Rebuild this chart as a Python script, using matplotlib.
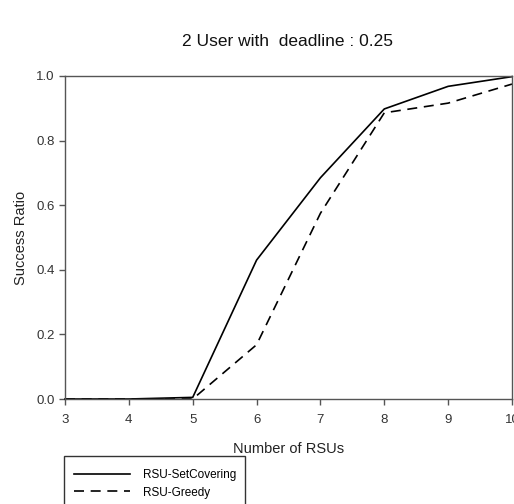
import matplotlib
matplotlib.use("Agg")
import matplotlib.pyplot as plt
from matplotlib.patches import Rectangle
from matplotlib.lines import Line2D

plt.rcParams['font.family'] = ['Liberation Sans', 'DejaVu Sans']

rsus = [3, 4, 5, 6, 7, 8, 9, 10]
set_covering = [0.0, 0.0, 0.005, 0.43, 0.685, 0.898, 0.968, 0.998]
greedy = [0.0, 0.0, 0.0, 0.168, 0.575, 0.886, 0.916, 0.975]
xticks = [3, 4, 5, 6, 7, 8, 9, 10]
yticks = [0.0, 0.2, 0.4, 0.6, 0.8, 1.0]
labels = ["RSU-SetCovering", "RSU-Greedy"]

W, H = 514, 504
fig = plt.figure(figsize=(W / 100, H / 100), dpi=100)
ax = fig.add_axes([65 / W, 1 - 399 / H, (512 - 65) / W, (399 - 76) / H])

ax.plot(rsus, set_covering, color='black', lw=1.2, clip_on=False)
ax.plot(rsus, greedy, color='black', lw=1.2, ls=(0, (6, 4)), clip_on=False)

ax.set_xlim(3, 10)
ax.set_ylim(0, 1.0)
ax.set_xticks(xticks)
ax.set_yticks(yticks)
ax.set_xticklabels([str(v) for v in xticks])
ax.set_yticklabels([f"{v:.1f}" for v in yticks])
for s in ax.spines.values():
    s.set_color('#555555')
    s.set_linewidth(1.0)
ax.tick_params(direction='out', length=4.5, width=1.0, color='#555555',
               labelsize=9.5, labelcolor='#333333', pad=3)
ax.tick_params(axis='x', pad=6)

ax.set_xlabel("Number of RSUs", fontsize=10.5, color='#222222', labelpad=12)
ax.set_ylabel("Success Ratio", fontsize=10.5, color='#222222', labelpad=6)
fig.text(288 / W, 1 - 41 / H, "2 User with  deadline : 0.25", fontsize=12.5,
         ha='center', va='center', color='#111111')

# legend frame
fig.patches.append(Rectangle((64 / W, -0.05), (245 - 64) / W, (H - 456) / H + 0.05,
                             transform=fig.transFigure, fill=False,
                             edgecolor='#333333', lw=1.0))
h1 = Line2D([], [], color='black', lw=1.2)
h2 = Line2D([], [], color='black', lw=1.2, ls=(0, (6, 4)))
fig.legend([h1, h2], labels, loc='upper left',
           bbox_to_anchor=(66 / W, 1 - 461 / H), frameon=False,
           fontsize=8.5, handlelength=4.7, handletextpad=1.1,
           labelspacing=0.45, borderpad=0.2)

fig.savefig("out.png", dpi=100)
